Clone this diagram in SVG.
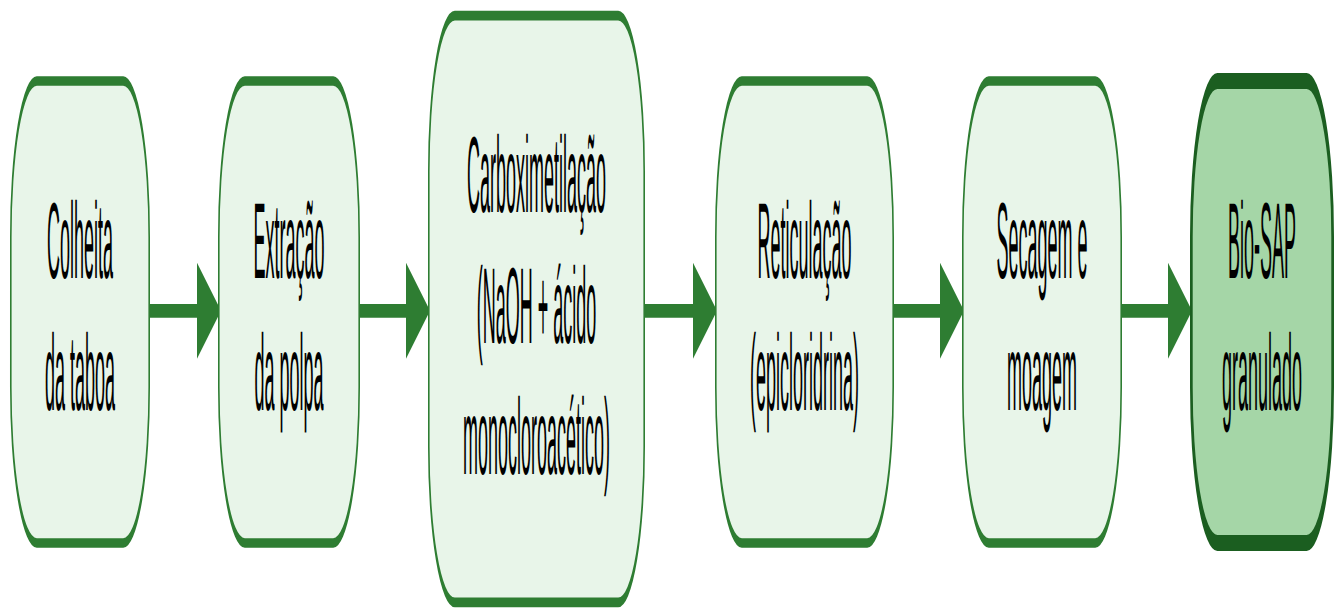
<svg xmlns="http://www.w3.org/2000/svg" width="1335" height="608" viewBox="0 0 1335 608">
  <style>
    .node rect { fill: #e8f5e9; stroke: #2e7d32; stroke-width: 1.6; }
    .node.final rect { fill: #a5d6a7; stroke: #1b5e20; stroke-width: 2.7; }
    .node text { font-family: "Liberation Sans", Arial, sans-serif; font-size: 18px; fill: #000; text-anchor: middle; text-rendering: geometricPrecision; }
    .edge { stroke: #2e7d32; stroke-width: 2.3; fill: none; marker-end: url(#head); }
  </style>
  <defs>
    <marker id="head" markerUnits="userSpaceOnUse" viewBox="0 0 24 16" markerWidth="24" markerHeight="16" refX="3" refY="8" orient="auto">
      <path d="M0,0 L24,8 L0,16 Z" fill="#2e7d32"/>
    </marker>
  </defs>
  <rect width="1335" height="608" fill="#ffffff"/>
  <g transform="scale(1,6)">
    <g id="connectors">
      <path class="edge" d="M150,51.8 H200"/>
      <path class="edge" d="M360,51.8 H409"/>
      <path class="edge" d="M645,51.8 H696"/>
      <path class="edge" d="M894,51.8 H943"/>
      <path class="edge" d="M1122,51.8 H1171"/>
    </g>
    <g id="n1" class="node">
      <rect x="10.8" y="13.5" width="138.4" height="77" rx="26" ry="26"/>
      <text x="80" y="46.3">Colheita</text>
      <text x="80" y="68.3">da taboa</text>
    </g>
    <g id="n2" class="node">
      <rect x="218.8" y="13.5" width="140.4" height="77" rx="26" ry="26"/>
      <text x="289" y="46.3">Extração</text>
      <text x="289" y="68.3">da polpa</text>
    </g>
    <g id="n3" class="node">
      <rect x="428.8" y="2.6" width="215.4" height="97.8" rx="26" ry="26"/>
      <text x="536.5" y="35.3">Carboximetilação</text>
      <text x="536.5" y="57.2">(NaOH + ácido</text>
      <text x="536.5" y="79">monocloroacético)</text>
    </g>
    <g id="n4" class="node">
      <rect x="715.8" y="13.5" width="177.4" height="77" rx="26" ry="26"/>
      <text x="804.5" y="46.3">Reticulação</text>
      <text x="804.5" y="68.3">(epicloridrina)</text>
    </g>
    <g id="n5" class="node">
      <rect x="962.8" y="13.5" width="158.4" height="77" rx="26" ry="26"/>
      <text x="1042" y="46.3">Secagem e</text>
      <text x="1042" y="68.3">moagem</text>
    </g>
    <g id="n6" class="node final">
      <rect x="1191.35" y="13.5" width="141.3" height="77" rx="26" ry="26"/>
      <text x="1262" y="46.3">Bio-SAP</text>
      <text x="1262" y="68.3">granulado</text>
    </g>
  </g>
</svg>
